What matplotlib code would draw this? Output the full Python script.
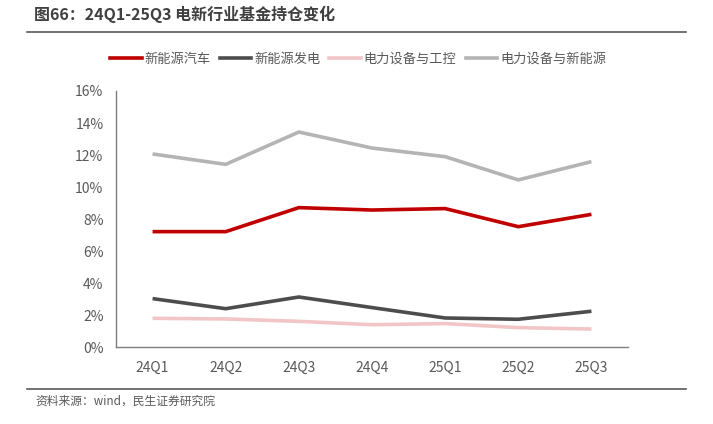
import matplotlib.pyplot as plt
from matplotlib.lines import Line2D

plt.rcParams['font.family'] = ['Noto Sans CJK SC', 'DejaVu Sans']

quarters = ['24Q1', '24Q2', '24Q3', '24Q4', '25Q1', '25Q2', '25Q3']
ev = [7.22, 7.22, 8.72, 8.57, 8.66, 7.53, 8.30]
power_gen = [3.04, 2.41, 3.14, 2.48, 1.83, 1.75, 2.25]
equip_ctrl = [1.81, 1.77, 1.62, 1.41, 1.48, 1.23, 1.14]
equip_new = [12.07, 11.42, 13.44, 12.44, 11.90, 10.45, 11.59]

series = [
    ('新能源汽车', ev, '#C00000'),
    ('新能源发电', power_gen, '#4D4D4D'),
    ('电力设备与工控', equip_ctrl, '#F2C6C6'),
    ('电力设备与新能源', equip_new, '#B4B4B4'),
]

fig = plt.figure(figsize=(7.13, 4.24), dpi=100)
ax = fig.add_axes([116 / 713, 1 - 347.3 / 424, 512 / 713, 256.3 / 424])

x = list(range(len(quarters)))
for name, vals, color in series:
    ax.plot(x, vals, color=color, linewidth=2.6, label=name, solid_capstyle='butt')

ax.set_xlim(-0.5, len(quarters) - 0.5)
ax.set_ylim(0, 16)
ax.set_yticks(range(0, 17, 2))
ax.set_yticklabels([f'{v}%' for v in range(0, 17, 2)])
ax.set_xticks(x)
ax.set_xticklabels(quarters)
ax.tick_params(length=0, labelsize=10, colors='#595959')
ax.tick_params(axis='x', pad=10)
ax.tick_params(axis='y', pad=9)
for s in ['top', 'right']:
    ax.spines[s].set_visible(False)
for s in ['left', 'bottom']:
    ax.spines[s].set_color('#7F7F7F')
    ax.spines[s].set_linewidth(1.0)

# legend
handles = [Line2D([0], [0], color=c, linewidth=2.6) for _, _, c in series]
fig.legend(handles, [n for n, _, _ in series], loc='center', bbox_to_anchor=(358 / 713, 1 - 59 / 424),
           ncol=4, frameon=False, fontsize=9.5, handlelength=2.4, handletextpad=0.2,
           columnspacing=0.7, labelcolor='#595959')

# title and separators
fig.text(34 / 713, 1 - 14 / 424, '图66：24Q1-25Q3 电新行业基金持仓变化', fontsize=11.5,
         fontweight='bold', color='#404040', va='center', ha='left')
fig.add_artist(Line2D([27 / 713, 686 / 713], [1 - 32 / 424, 1 - 32 / 424], color='#595959', linewidth=1.2))
fig.add_artist(Line2D([27 / 713, 686 / 713], [1 - 389 / 424, 1 - 389 / 424], color='#595959', linewidth=1.2))
fig.text(35 / 713, 1 - 401 / 424, '资料来源：wind，民生证券研究院', fontsize=8.5, color='#595959',
         va='center', ha='left')

fig.savefig('out.png', dpi=100)
